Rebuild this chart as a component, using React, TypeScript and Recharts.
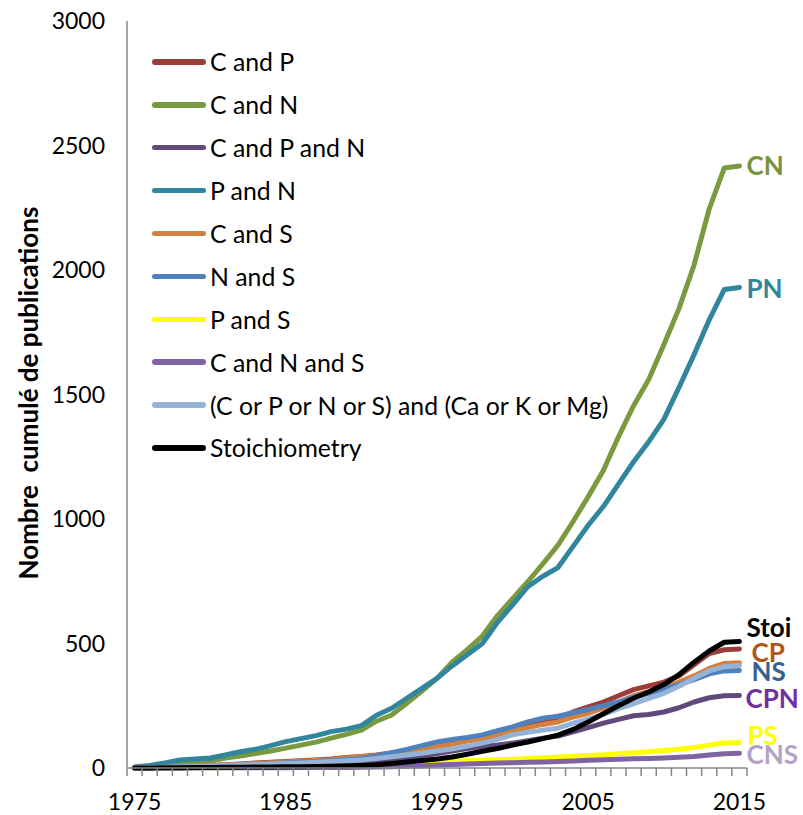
import React from 'react';
import { LineChart, Line, XAxis, YAxis, Legend } from 'recharts';

const YEARS = [1975, 1976, 1977, 1978, 1979, 1980, 1981, 1982, 1983, 1984, 1985, 1986, 1987, 1988, 1989, 1990, 1991, 1992, 1993, 1994, 1995, 1996, 1997, 1998, 1999, 2000, 2001, 2002, 2003, 2004, 2005, 2006, 2007, 2008, 2009, 2010, 2011, 2012, 2013, 2014, 2015];

const C_AND_P = [0, 2, 4, 6, 8, 10, 13, 16, 20, 23, 26, 29, 32, 36, 42, 46, 52, 60, 68, 78, 90, 100, 112, 124, 135, 150, 168, 185, 200, 225, 245, 265, 290, 315, 330, 345, 370, 415, 460, 475, 478];
const C_AND_N = [3, 6, 12, 21, 24, 27, 40, 48, 58, 68, 80, 92, 104, 120, 135, 152, 188, 213, 260, 309, 360, 425, 475, 530, 612, 680, 748, 820, 895, 990, 1090, 1195, 1330, 1455, 1560, 1700, 1845, 2020, 2245, 2410, 2418];
const C_P_N = [0, 0, 1, 1, 2, 2, 3, 4, 5, 6, 7, 8, 9, 11, 13, 16, 22, 30, 38, 48, 58, 68, 78, 86, 92, 100, 110, 120, 128, 145, 162, 180, 195, 210, 215, 225, 242, 265, 282, 290, 291];
const P_AND_N = [4, 10, 20, 32, 36, 40, 52, 65, 75, 90, 106, 118, 130, 146, 156, 170, 212, 240, 280, 320, 360, 410, 455, 500, 585, 655, 728, 770, 805, 890, 975, 1050, 1140, 1230, 1310, 1400, 1528, 1660, 1800, 1922, 1930];
const C_AND_S = [0, 1, 3, 5, 7, 9, 12, 15, 18, 21, 24, 27, 30, 34, 40, 45, 50, 58, 65, 75, 85, 96, 108, 118, 130, 150, 162, 175, 185, 205, 220, 240, 265, 290, 308, 320, 345, 370, 400, 420, 423];
const N_AND_S = [0, 1, 2, 4, 5, 7, 9, 11, 14, 17, 20, 23, 26, 30, 34, 38, 48, 62, 75, 90, 105, 115, 123, 133, 150, 165, 185, 200, 208, 222, 235, 250, 265, 285, 300, 318, 335, 355, 378, 390, 392];
const P_AND_S = [0, 0, 0, 1, 1, 1, 1, 2, 2, 2, 2, 3, 3, 3, 4, 5, 8, 11, 14, 18, 24, 27, 29, 31, 33, 35, 38, 41, 44, 47, 50, 53, 57, 61, 65, 70, 75, 82, 92, 100, 102];
const C_N_S = [0, 0, 0, 0, 0, 1, 1, 1, 1, 1, 1, 2, 2, 2, 2, 3, 4, 5, 7, 9, 12, 14, 16, 18, 20, 21, 23, 24, 26, 28, 31, 33, 35, 37, 38, 40, 43, 46, 52, 57, 59];
const CA_K_MG = [0, 1, 2, 4, 6, 8, 10, 12, 14, 16, 18, 20, 23, 26, 29, 32, 38, 45, 52, 59, 68, 76, 88, 100, 115, 133, 143, 152, 160, 180, 197, 215, 238, 258, 280, 300, 328, 360, 390, 407, 412];
const STOICHIOMETRY = [0, 0, 1, 1, 2, 2, 3, 3, 4, 4, 5, 5, 6, 7, 8, 10, 13, 18, 24, 30, 36, 44, 55, 67, 78, 92, 104, 118, 132, 155, 185, 218, 250, 280, 305, 335, 375, 425, 470, 505, 508];

const Y_TICKS = [0, 500, 1000, 1500, 2000, 2500, 3000];
const X_LABELS = [1975, 1985, 1995, 2005, 2015];
const X_BOUNDARIES = [...YEARS.map((y) => y - 0.5), YEARS[YEARS.length - 1] + 0.5];

const SERIES = [
  { key: 'cp', name: 'C and P', values: C_AND_P, color: '#9C3D3A', tag: 'CP', tagColor: '#B0561C', dx: 12, dy: 3 },
  { key: 'cn', name: 'C and N', values: C_AND_N, color: '#7A9A3F', tag: 'CN', tagColor: '#77933C', dx: 7, dy: -1 },
  { key: 'cpn', name: 'C and P and N', values: C_P_N, color: '#604A7B', tag: 'CPN', tagColor: '#7030A0', dx: 6, dy: 2 },
  { key: 'pn', name: 'P and N', values: P_AND_N, color: '#31859C', tag: 'PN', tagColor: '#31859C', dx: 7, dy: 1 },
  { key: 'cs', name: 'C and S', values: C_AND_S, color: '#D4803E', tag: '', tagColor: '', dx: 0, dy: 0 },
  { key: 'ns', name: 'N and S', values: N_AND_S, color: '#4F81BD', tag: 'NS', tagColor: '#376092', dx: 12, dy: 1 },
  { key: 'ps', name: 'P and S', values: P_AND_S, color: '#FFFF00', tag: 'PS', tagColor: '#FFFF00', dx: 8, dy: -8 },
  { key: 'cns', name: 'C and N and S', values: C_N_S, color: '#8064A2', tag: 'CNS', tagColor: '#B3A2C7', dx: 7, dy: 1 },
  { key: 'ckm', name: '(C or P or N or S) and (Ca or K or Mg)', values: CA_K_MG, color: '#95B3D7', tag: '', tagColor: '', dx: 0, dy: 0 },
  { key: 'stoi', name: 'Stoichiometry', values: STOICHIOMETRY, color: '#000000', tag: 'Stoi', tagColor: '#000000', dx: 7, dy: -15 },
];

const DATA = YEARS.map((year, i) => {
  const row: Record<string, number> = { year };
  SERIES.forEach((s) => {
    row[s.key] = s.values[i];
  });
  return row;
});

const W = 803;
const H = 815;
const PLOT_LEFT = 127;
const PLOT_RIGHT = 747;
const PLOT_TOP = 21;
const PLOT_BOTTOM = 768;
const HALF_STEP = (PLOT_RIGHT - PLOT_LEFT) / YEARS.length / 2;
const FONT = 'Lato, "Open Sans", sans-serif';
const AXIS_COLOR = '#868686';

const XTick = (props: any) => {
  const { x, y, payload } = props;
  const yr = payload.value + 0.5;
  if (!X_LABELS.includes(yr)) return <g />;
  return (
    <text x={x + HALF_STEP} y={y + 34} textAnchor="middle" fontSize={23} fill="#000" fontFamily={FONT}>
      {yr}
    </text>
  );
};

const makeEndLabel = (s: any) => (props: any) => {
  const { x, y, index } = props;
  if (!s.tag || index !== YEARS.length - 1) return <g key={`lbl-${s.key}-${index}`} />;
  return (
    <text
      key={`lbl-${s.key}`}
      x={x + s.dx}
      y={y + s.dy}
      fill={s.tagColor}
      fontSize={26}
      fontWeight="bold"
      fontFamily={FONT}
      dominantBaseline="central"
    >
      {s.tag}
    </text>
  );
};

const LegendContent = () => (
  <div style={{ fontFamily: FONT }}>
    {SERIES.map((s) => (
      <div key={s.key} style={{ display: 'flex', alignItems: 'center', height: 42.9 }}>
        <div style={{ width: 54, height: 5.5, borderRadius: 3, background: s.color, marginRight: 4 }} />
        <span style={{ fontSize: 24.8, color: '#000', whiteSpace: 'nowrap' }}>{s.name}</span>
      </div>
    ))}
  </div>
);

const YTitle = () => (
  <text
    x={28}
    y={393}
    transform="rotate(-90, 28, 393)"
    textAnchor="middle"
    dominantBaseline="central"
    fontSize={26}
    fontWeight="bold"
    fontFamily={FONT}
    fill="#000"
    style={{ whiteSpace: 'pre' }}
  >
    {'Nombre  cumulé de publications'}
  </text>
);

export default function App() {
  return (
    <div style={{ position: 'absolute', left: 0, top: 0, width: W, height: H, background: '#fff', fontFamily: FONT }}>
      <LineChart
        width={W}
        height={H}
        data={DATA}
        margin={{ top: PLOT_TOP, right: W - PLOT_RIGHT, bottom: 0, left: 27 }}
      >
        <XAxis
          dataKey="year"
          type="number"
          domain={[X_BOUNDARIES[0], X_BOUNDARIES[X_BOUNDARIES.length - 1]]}
          ticks={X_BOUNDARIES}
          interval={0}
          height={H - PLOT_BOTTOM}
          tickSize={8}
          tickMargin={0}
          tick={<XTick />}
          axisLine={{ stroke: AXIS_COLOR, strokeWidth: 1.5 }}
          tickLine={{ stroke: AXIS_COLOR, strokeWidth: 1.5 }}
          allowDataOverflow
        />
        <YAxis
          type="number"
          domain={[0, 3000]}
          ticks={Y_TICKS}
          interval={0}
          width={PLOT_LEFT - 27}
          tickSize={0}
          tickMargin={22}
          tickLine={false}
          axisLine={{ stroke: AXIS_COLOR, strokeWidth: 1.5 }}
          tick={{ fontSize: 23, fill: '#000', fontFamily: FONT }}
          label={<YTitle />}
        />
        <Legend
          layout="horizontal"
          verticalAlign="middle"
          align="center"
          content={<LegendContent />}
          wrapperStyle={{ left: 152, top: 40.5, width: 500, height: 430 }}
        />
        {SERIES.map((s) => (
          <Line
            key={s.key}
            dataKey={s.key}
            name={s.name}
            stroke={s.color}
            strokeWidth={5}
            strokeLinejoin="round"
            strokeLinecap="round"
            dot={false}
            activeDot={false}
            isAnimationActive={false}
            label={makeEndLabel(s)}
          />
        ))}
      </LineChart>
    </div>
  );
}
